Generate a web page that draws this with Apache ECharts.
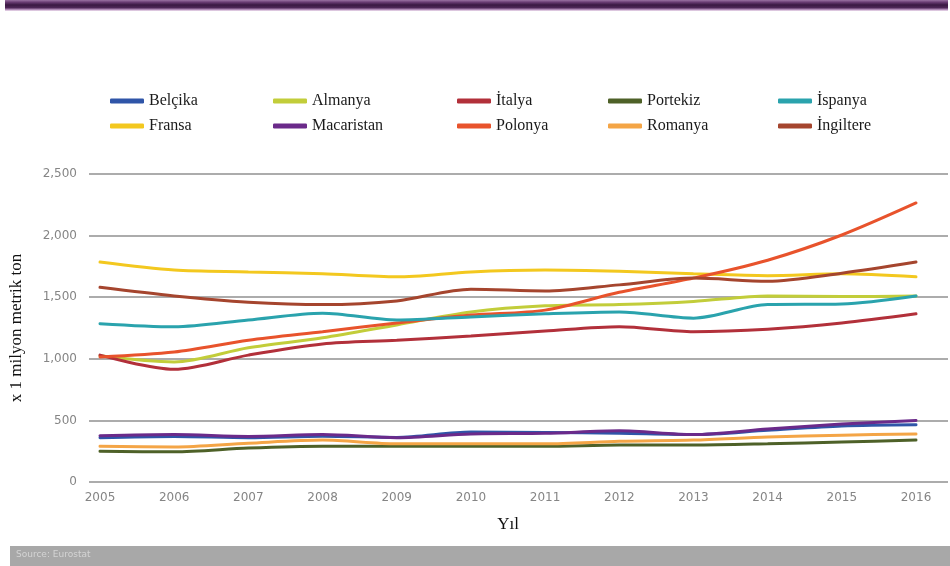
<!DOCTYPE html>
<html>
<head>
<meta charset="utf-8">
<script src="https://cdn.jsdelivr.net/npm/echarts@6/dist/echarts.min.js"></script>
<style>
  html, body { margin: 0; padding: 0; background: #ffffff; }
  #chart { width: 950px; height: 566px; }
</style>
</head>
<body>
<div id="chart"></div>
<script>
// Years on the x axis
const years = ['2005','2006','2007','2008','2009','2010','2011','2012','2013','2014','2015','2016'];

// Values, x 1 milyon metrik ton
const belcika    = [360, 370, 360, 372, 362, 405, 402, 395, 385, 420, 455, 465];
const fransa     = [1785, 1720, 1705, 1690, 1665, 1705, 1720, 1710, 1690, 1675, 1690, 1665];
const almanya    = [1025, 975, 1090, 1170, 1275, 1380, 1430, 1440, 1465, 1510, 1505, 1510];
const macaristan = [375, 385, 370, 385, 360, 390, 395, 415, 385, 430, 470, 500];
const italya     = [1030, 915, 1030, 1120, 1150, 1185, 1225, 1260, 1220, 1240, 1290, 1365];
const polonya    = [1015, 1055, 1150, 1220, 1290, 1355, 1395, 1540, 1655, 1800, 2005, 2265];
const portekiz   = [250, 245, 275, 290, 290, 290, 290, 300, 300, 310, 325, 340];
const romanya    = [290, 285, 315, 340, 310, 310, 310, 330, 340, 365, 380, 390];
const ispanya    = [1285, 1260, 1315, 1370, 1315, 1340, 1365, 1380, 1330, 1440, 1445, 1510];
const ingiltere  = [1580, 1510, 1460, 1440, 1470, 1565, 1550, 1600, 1655, 1630, 1695, 1785];

// Legend columns (two entries each)
const legendColumns = [
  ['Belçika', 'Fransa'],
  ['Almanya', 'Macaristan'],
  ['İtalya', 'Polonya'],
  ['Portekiz', 'Romanya'],
  ['İspanya', 'İngiltere']
];

const seriesDefs = [
  { name: 'Belçika',    data: belcika,    color: '#2f55a8' },
  { name: 'Fransa',     data: fransa,     color: '#f3c81f' },
  { name: 'Almanya',    data: almanya,    color: '#c2cd3a' },
  { name: 'Macaristan', data: macaristan, color: '#6b2a8a' },
  { name: 'İtalya',     data: italya,     color: '#b2303a' },
  { name: 'Polonya',    data: polonya,    color: '#e8532c' },
  { name: 'Portekiz',   data: portekiz,   color: '#4e6128' },
  { name: 'Romanya',    data: romanya,    color: '#f4a546' },
  { name: 'İspanya',    data: ispanya,    color: '#2aa3ad' },
  { name: 'İngiltere',  data: ingiltere,  color: '#a5452e' }
];

const chart = echarts.init(document.getElementById('chart'));

const legendLefts = [105, 268, 452, 603, 773];
const legends = legendColumns.map((names, i) => ({
  orient: 'vertical',
  left: legendLefts[i],
  top: 88,
  itemWidth: 34,
  itemHeight: 5,
  itemGap: 9,
  icon: 'roundRect',
  selectedMode: false,
  data: names,
  textStyle: { fontFamily: 'Liberation Serif', fontSize: 16, color: '#1a1a1a' }
}));

const option = {
  backgroundColor: '#ffffff',
  animation: false,
  legend: legends,
  graphic: [
    {
      type: 'rect',
      shape: { x: 5, y: 0, width: 943, height: 11 },
      style: {
        fill: new echarts.graphic.LinearGradient(0, 0, 0, 1, [
          { offset: 0, color: '#9a72a2' },
          { offset: 0.2, color: '#6a3c73' },
          { offset: 0.45, color: '#3a1842' },
          { offset: 0.7, color: '#4e2757' },
          { offset: 0.85, color: '#a77fae' },
          { offset: 1, color: '#f3e6f4' }
        ])
      },
      silent: true
    },
    {
      type: 'rect',
      shape: { x: 10, y: 546, width: 940, height: 20 },
      style: { fill: '#a8a8a8' },
      silent: true
    },
    {
      type: 'text',
      left: 16,
      top: 550,
      style: { text: 'Source: Eurostat', fill: '#d4d4d4', font: '9px "DejaVu Sans"' },
      silent: true
    }
  ],
  grid: [
    { left: 82, right: 2, top: 174, bottom: 84 },
    { left: 100, right: 34, top: 174, bottom: 84 }
  ],
  xAxis: [
    {
      gridIndex: 0, type: 'category', data: years, show: false
    },
    {
      gridIndex: 1,
      type: 'category',
      data: years,
      boundaryGap: false,
      axisLine: { show: false },
      axisTick: { show: false },
      axisLabel: { color: '#858585', fontFamily: 'DejaVu Sans', fontSize: 12, margin: 10 },
      name: 'Yıl',
      nameLocation: 'middle',
      nameGap: 34,
      nameTextStyle: { fontFamily: 'Liberation Serif', fontSize: 17, color: '#111' }
    }
  ],
  yAxis: [
    {
      gridIndex: 0,
      type: 'value',
      min: 0,
      max: 2500,
      interval: 500,
      axisLine: { show: false },
      axisTick: { show: false },
      axisLabel: {
        color: '#858585', fontFamily: 'DejaVu Sans', fontSize: 12, margin: 12,
        formatter: v => v.toLocaleString('en-US')
      },
      splitLine: { lineStyle: { color: '#acacac', width: 2 } },
      name: 'x 1 milyon metrik ton',
      nameLocation: 'middle',
      nameGap: 64,
      nameRotate: 90,
      nameTextStyle: { fontFamily: 'Liberation Serif', fontSize: 17, color: '#111' }
    },
    {
      gridIndex: 1,
      type: 'value',
      min: 0,
      max: 2500,
      interval: 500,
      show: false,
      splitLine: { show: false }
    }
  ],
  series: seriesDefs.map(s => ({
    name: s.name,
    type: 'line',
    xAxisIndex: 1,
    yAxisIndex: 1,
    data: s.data,
    smooth: 0.3,
    showSymbol: false,
    symbol: 'none',
    color: s.color,
    lineStyle: { width: 3, color: s.color, cap: 'round' }
  }))
};

chart.setOption(option);
</script>
</body>
</html>
